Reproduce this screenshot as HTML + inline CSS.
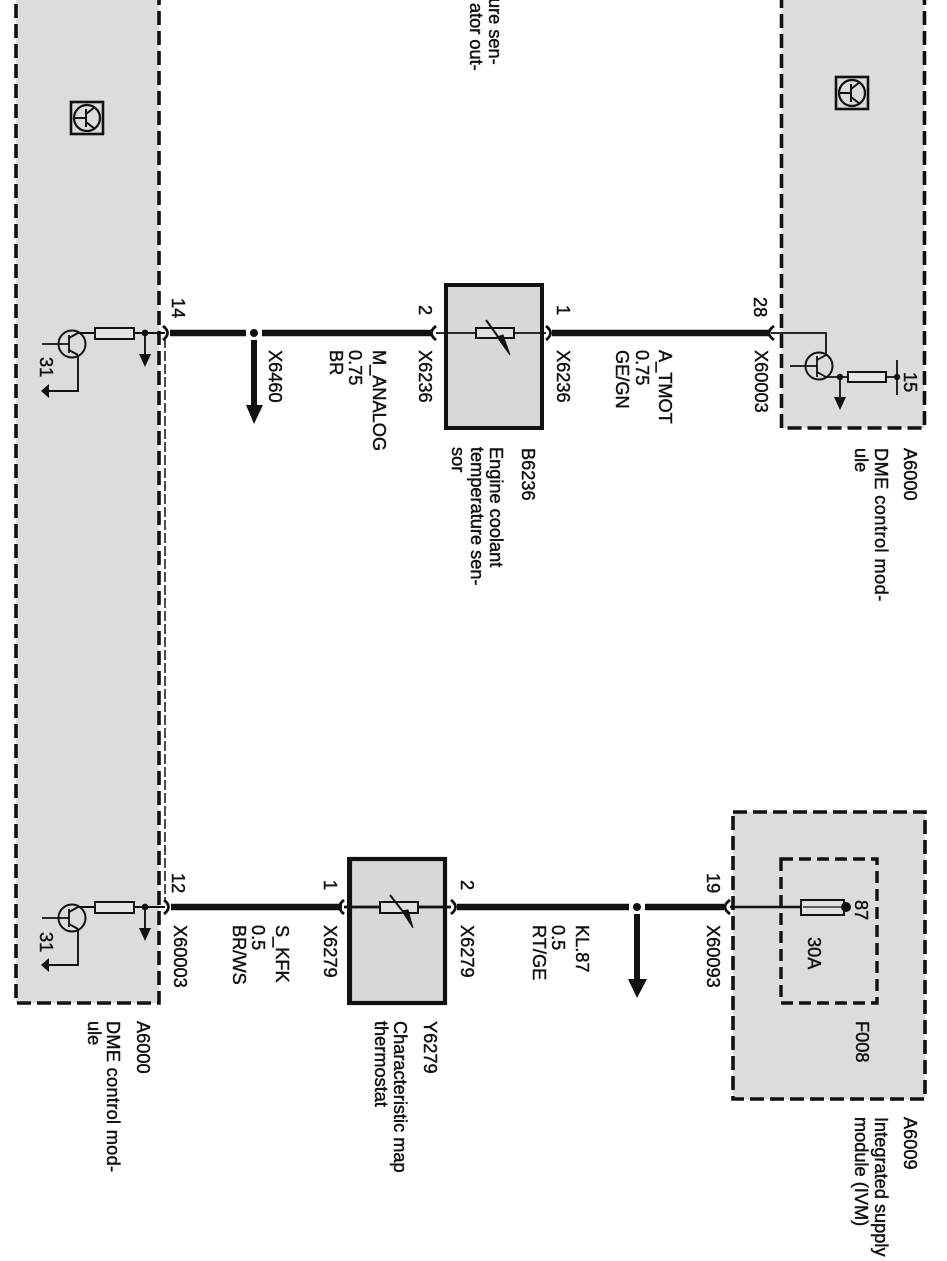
<!DOCTYPE html>
<html><head><meta charset="utf-8"><style>
html,body{margin:0;padding:0;background:#fff}
svg{display:block}
text{font-family:"Liberation Sans",sans-serif;font-size:18.2px;fill:#111;stroke:#111;stroke-width:.45px}
</style></head><body>
<svg width="947" height="1261" viewBox="0 0 947 1261" xmlns="http://www.w3.org/2000/svg">
<defs>
<g id="icon">
<rect x="-16" y="-16" width="32" height="32" fill="none" stroke="#111" stroke-width="2.6"/>
<circle cx="0" cy="0" r="13" fill="none" stroke="#111" stroke-width="2.2"/>
<path d="M-13 0H-1M-1 -9V9M-1 -4L8 -11M-1 4L8 11" fill="none" stroke="#111" stroke-width="2"/>
</g>
<g id="driver">
<circle cx="72" cy="11" r="13.5" fill="none" stroke="#111" stroke-width="2"/>
<path d="M42 11H69M69 2V20" fill="none" stroke="#111" stroke-width="1.8"/>
<path d="M69 5L78 0M69 17L78 22M78 0H96M134 0H165M78 22V58H47M145 0V26" fill="none" stroke="#111" stroke-width="1.9"/>
<rect x="95" y="-5" width="39" height="11" fill="#e4e4e4" stroke="#111" stroke-width="2"/>
<circle cx="145" cy="0" r="3.4" fill="#111"/>
<path d="M139 21H151L145 34Z" fill="#111"/>
<path d="M49 51L41 58L49 65Z" fill="#111"/>
</g>
</defs>

<!-- panels -->
<rect x="16" y="-6" width="143" height="1009" fill="#dcdcdc" stroke="#111" stroke-width="3.6" stroke-dasharray="14,6"/>
<rect x="781.5" y="-6" width="143" height="434" fill="#dcdcdc" stroke="#111" stroke-width="3.6" stroke-dasharray="14,6"/>
<rect x="733" y="812" width="192" height="287" fill="#dcdcdc" stroke="#111" stroke-width="3.6" stroke-dasharray="14,6"/>
<rect x="781" y="859" width="96" height="144" fill="#dcdcdc" stroke="#111" stroke-width="3.4" stroke-dasharray="12,6"/>
<rect x="446" y="285" width="96" height="143" fill="#d8d8d8" stroke="#111" stroke-width="4"/>
<rect x="350" y="859" width="95" height="144" fill="#d8d8d8" stroke="#111" stroke-width="4.2"/>
<path d="M349.5 857V1005" stroke="#111" stroke-width="5" fill="none"/>
<path d="M165 338V900" fill="none" stroke="#111" stroke-width="1.5" stroke-dasharray="10,3"/>

<!-- icons -->
<use href="#icon" x="87" y="118"/>
<use href="#icon" x="852" y="93"/>

<!-- thick wires -->
<path d="M170 333H432M552 333H770M171 907H342M457 907H724" fill="none" stroke="#111" stroke-width="6.4"/>
<path d="M436 333H546" fill="none" stroke="#111" stroke-width="1.8"/>
<path d="M344 907H451" fill="none" stroke="#111" stroke-width="2.8"/>

<!-- connector hooks -->
<g fill="none" stroke="#111" stroke-width="2.8">
<path d="M163 326Q172 333 163 340M436 326Q427 333 436 340M546 326Q555 333 546 340M774 326Q764 333 774 340"/>
<path d="M164 900Q173 907 164 914M344 900Q335 907 344 914M451 900Q460 907 451 914M730 900Q720 907 730 914"/>
</g>

<!-- branch white gaps + arrows -->
<rect x="246" y="328" width="16" height="10" fill="#fff"/>
<circle cx="254" cy="333" r="4" fill="#111"/>
<path d="M254 340V408" stroke="#111" stroke-width="6" fill="none"/>
<path d="M246 405H263L254 424Z" fill="#111"/>
<rect x="629" y="902" width="16" height="10" fill="#fff"/>
<circle cx="637" cy="907" r="4" fill="#111"/>
<path d="M637 914V982" stroke="#111" stroke-width="6" fill="none"/>
<path d="M628 979H647L637 998Z" fill="#111"/>

<!-- drivers, left -->
<use href="#driver" x="0" y="333"/>
<use href="#driver" x="0" y="907"/>

<!-- right driver A6000 -->
<circle cx="819" cy="366" r="13.5" fill="none" stroke="#111" stroke-width="2"/>
<path d="M771 333H826V355M790 366H817M817 356V377M817 360L826 355M817 372L826 377M826 377H848M840 377V400M887 377H897M897 360V395" fill="none" stroke="#111" stroke-width="1.8"/>
<rect x="848" y="372" width="38" height="10" fill="#e4e4e4" stroke="#111" stroke-width="2"/>
<circle cx="840" cy="377" r="3.2" fill="#111"/>
<circle cx="897" cy="377" r="3.2" fill="#111"/>
<path d="M834 397H846L840 410Z" fill="#111"/>

<!-- B6236 resistor -->
<rect x="476" y="328" width="38" height="10" fill="#e0e0e0" stroke="#111" stroke-width="2"/>
<path d="M486 320L499 338" stroke="#111" stroke-width="2" fill="none"/>
<path d="M497 337L510 355L503 335Z" fill="#111" stroke="#111"/>

<!-- Y6279 resistor -->
<rect x="380" y="902" width="38" height="11" fill="#e0e0e0" stroke="#111" stroke-width="2"/>
<path d="M390 895L404 913" stroke="#111" stroke-width="2" fill="none"/>
<path d="M402 911L413 928L408 910Z" fill="#111" stroke="#111"/>

<!-- fuse -->
<path d="M730 907H800" stroke="#111" stroke-width="2.6" fill="none"/>
<rect x="801" y="900" width="43" height="15" fill="#e0e0e0" stroke="#111" stroke-width="2"/>
<path d="M803 907H845" stroke="#111" stroke-width="1.2" fill="none"/>
<circle cx="846" cy="907" r="5" fill="#111"/>

<!-- labels -->
<text transform="translate(470,0) rotate(90)" x="3">ator out-</text>
<text transform="translate(489,0) rotate(90)" x="-2">ure sen-</text>

<text transform="translate(172,298) rotate(90)">14</text>
<text transform="translate(40,357) rotate(90)">31</text>
<text transform="translate(269,350) rotate(90)">X6460</text>
<text transform="translate(373,350) rotate(90)">M_ANALOG</text>
<text transform="translate(349,350) rotate(90)">0.75</text>
<text transform="translate(330,350) rotate(90)">BR</text>
<text transform="translate(419,305) rotate(90)">2</text>
<text transform="translate(419,350) rotate(90)">X6236</text>
<text transform="translate(557,305) rotate(90)">1</text>
<text transform="translate(557,350) rotate(90)">X6236</text>
<text transform="translate(522,448) rotate(90)">B6236</text>
<text transform="translate(490,447) rotate(90)">Engine coolant</text>
<text transform="translate(471,447) rotate(90)">temperature sen-</text>
<text transform="translate(452,447) rotate(90)">sor</text>
<text transform="translate(659,350) rotate(90)">A_TMOT</text>
<text transform="translate(636,350) rotate(90)">0.75</text>
<text transform="translate(616,350) rotate(90)">GE/GN</text>
<text transform="translate(754,297) rotate(90)">28</text>
<text transform="translate(755,350) rotate(90)">X60003</text>
<text transform="translate(904,372) rotate(90)">15</text>
<text transform="translate(904,448) rotate(90)">A6000</text>
<text transform="translate(875,448) rotate(90)" letter-spacing=".45">DME control mod-</text>
<text transform="translate(855,448) rotate(90)">ule</text>

<text transform="translate(172,873) rotate(90)">12</text>
<text transform="translate(40,932) rotate(90)">31</text>
<text transform="translate(174,925) rotate(90)">X60003</text>
<text transform="translate(276,925) rotate(90)">S_KFK</text>
<text transform="translate(252,925) rotate(90)">0.5</text>
<text transform="translate(233,925) rotate(90)">BR/WS</text>
<text transform="translate(324,880) rotate(90)">1</text>
<text transform="translate(324,925) rotate(90)">X6279</text>
<text transform="translate(461,880) rotate(90)">2</text>
<text transform="translate(461,925) rotate(90)">X6279</text>
<text transform="translate(424,1021) rotate(90)">Y6279</text>
<text transform="translate(394,1021) rotate(90)">Characteristic map</text>
<text transform="translate(375,1021) rotate(90)">thermostat</text>
<text transform="translate(137,1021) rotate(90)">A6000</text>
<text transform="translate(107,1021) rotate(90)" letter-spacing=".3">DME control mod-</text>
<text transform="translate(88,1021) rotate(90)">ule</text>
<text transform="translate(576,925) rotate(90)">KL.87</text>
<text transform="translate(552,925) rotate(90)">0.5</text>
<text transform="translate(533,925) rotate(90)">RT/GE</text>
<text transform="translate(707,873) rotate(90)">19</text>
<text transform="translate(707,925) rotate(90)">X60093</text>
<text transform="translate(855,900) rotate(90)">87</text>
<text transform="translate(808,937) rotate(90)">30A</text>
<text transform="translate(856,1021) rotate(90)">F008</text>
<text transform="translate(904,1117) rotate(90)">A6009</text>
<text transform="translate(875,1117) rotate(90)">Integrated supply</text>
<text transform="translate(855,1117) rotate(90)">module (IVM)</text>
</svg>
</body></html>
